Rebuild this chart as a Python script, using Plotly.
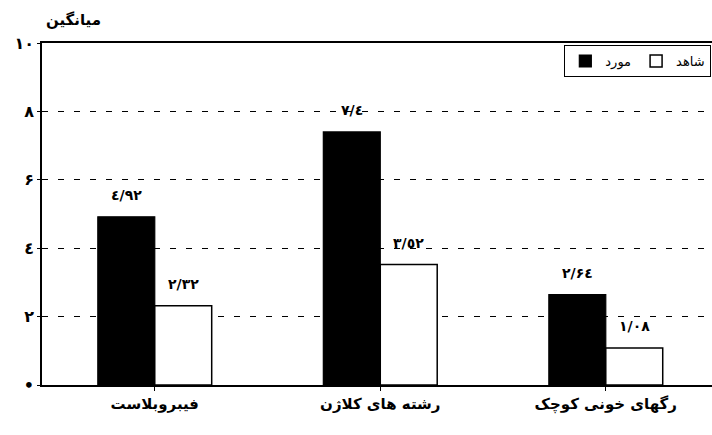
import plotly.graph_objects as go

categories = ["فیبروبلاست", "رشته های کلاژن", "رگهای خونی کوچک"]
case_name = "مورد"
control_name = "شاهد"
case_values = [4.92, 7.4, 2.64]
control_values = [2.32, 3.52, 1.08]
case_labels = ["٤/٩٢", "٧/٤", "۲/۶٤"]
control_labels = ["۲/۳۲", "۳/٥۲", "۱/۰۸"]
y_tickvals = [0, 2, 4, 6, 8, 10]
y_ticktext = ["•", "۲", "٤", "۶", "۸", "۱۰"]
y_title = "میانگین"

FONT = "DejaVu Sans"
xs = list(range(len(categories)))

fig = go.Figure()
fig.add_trace(go.Bar(x=xs, y=case_values, name=case_name,
                     marker=dict(color="black", line=dict(color="black", width=1.2))))
fig.add_trace(go.Bar(x=xs, y=control_values, name=control_name,
                     marker=dict(color="white", line=dict(color="black", width=1.5))))

off = 0.126
for i in xs:
    fig.add_annotation(x=i - off, y=case_values[i], text="<b>%s</b>" % case_labels[i],
                       showarrow=False, yanchor="bottom", yshift=12,
                       font=dict(family=FONT, size=14, color="black"))
    fig.add_annotation(x=i + off, y=control_values[i], text="<b>%s</b>" % control_labels[i],
                       showarrow=False, yanchor="bottom", yshift=12,
                       font=dict(family=FONT, size=14, color="black"))

fig.add_annotation(xref="paper", yref="paper", x=0.0, y=1.0, xanchor="left", yanchor="bottom",
                   yshift=12, xshift=2, text="<b>%s</b>" % y_title, showarrow=False,
                   font=dict(family=FONT, size=15, color="black"))

fig.update_layout(
    width=712, height=435,
    margin=dict(l=42, r=0, t=43, b=50, autoexpand=False),
    paper_bgcolor="white", plot_bgcolor="white",
    barmode="group", bargap=0.495, bargroupgap=0,
    font=dict(family=FONT, color="black"),
    legend=dict(orientation="h", x=0.999, y=0.994, xanchor="right", yanchor="top",
                bordercolor="black", borderwidth=1, bgcolor="white",
                font=dict(family=FONT, size=13, color="black"),
                traceorder="normal", itemwidth=30),
    xaxis=dict(range=[-0.5, 2.471], tickvals=xs, automargin=False,
               ticktext=["<b>%s</b>" % c for c in categories],
               tickfont=dict(family=FONT, size=15, color="black"),
               showline=True, linecolor="black", linewidth=1.5, mirror=True,
               ticks="outside", ticklen=4, tickcolor="black",
               showgrid=False, zeroline=False),
    yaxis=dict(range=[0, 10], tickvals=y_tickvals, automargin=False,
               ticktext=["<b>%s</b>" % t for t in y_ticktext],
               tickfont=dict(family=FONT, size=16, color="black"),
               showline=True, linecolor="black", linewidth=1.5,
               ticks="outside", ticklen=3, tickcolor="black",
               showgrid=True, gridcolor="black", gridwidth=1, griddash="6px,10px",
               zeroline=False),
)

fig.write_html("out.html", config={"displayModeBar": False},
               post_script="document.body.style.margin='0';document.body.style.overflow='hidden';")
